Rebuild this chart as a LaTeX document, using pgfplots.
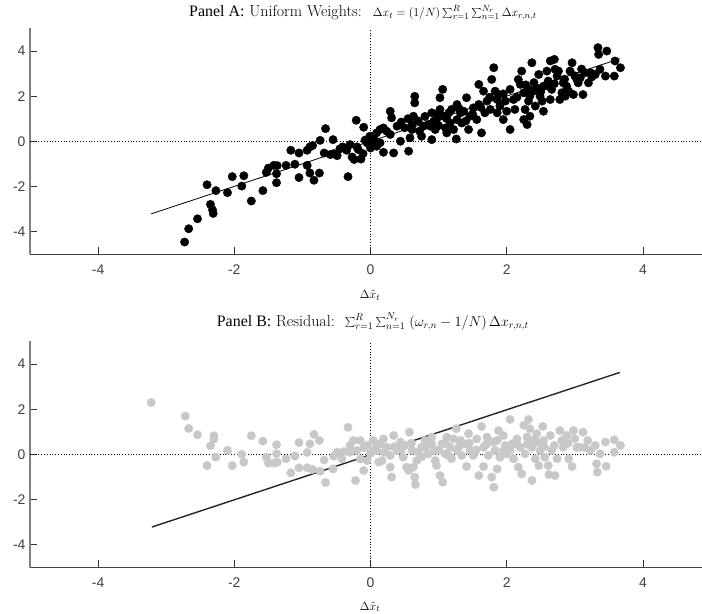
\documentclass[border=0pt]{standalone}
\usepackage{pgfplots}
\pgfplotsset{compat=1.18}
\usepackage{pgfplotstable}
\usepackage{fontspec}
\newfontfamily\arialf{Liberation Sans}
\newfontfamily\timesf{Liberation Serif}
\definecolor{tickgray}{HTML}{404040}
\definecolor{ptgray}{HTML}{C8C8C8}

\pgfplotstableread{
x y
-2.73 -4.47
-2.67 -3.88
-2.54 -3.44
-2.40 -1.93
-2.35 -2.80
-2.32 -3.04
-2.31 -3.20
-2.27 -2.19
-2.10 -2.28
-2.03 -1.57
-1.89 -1.99
-1.86 -1.53
-1.75 -2.65
-1.58 -2.19
-1.53 -1.38
-1.50 -1.19
-1.42 -1.07
-1.37 -1.08
-1.38 -1.44
-1.38 -1.84
-1.24 -1.07
-1.17 -0.40
-1.11 -1.02
-1.05 -0.52
-1.05 -1.61
-0.93 -1.07
-0.93 -0.40
-0.89 -0.25
-0.85 -0.19
-0.89 -1.41
-0.83 -1.73
-0.75 -1.41
-0.74 0.04
-0.68 -0.52
-0.66 0.56
-0.59 -0.59
-0.55 0.07
-0.54 -0.55
-0.49 -0.64
-0.45 -0.34
-0.41 -0.25
-0.35 -0.40
-0.33 -1.57
-0.30 -0.15
-0.27 -0.70
-0.24 -0.81
-0.21 0.93
-0.20 -0.25
-0.18 -0.37
-0.14 -0.79
-0.11 -0.55
-0.10 0.62
-0.08 0.05
-0.05 -0.07
-0.01 0.22
0.00 -0.30
0.04 -0.07
0.05 0.10
0.09 0.37
0.09 -0.22
0.04 0.22
0.14 0.52
0.19 0.59
0.24 0.44
0.29 0.30
0.14 -0.07
0.19 -0.49
0.34 -0.52
0.29 1.33
0.31 1.04
0.39 0.67
0.44 0.00
0.45 0.85
0.50 0.60
0.55 1.00
0.56 -0.44
0.58 0.15
0.61 0.52
0.63 1.11
0.65 1.70
0.65 1.99
0.61 0.74
0.70 0.90
0.72 0.45
0.75 0.22
0.78 0.67
0.80 1.10
0.85 0.75
0.90 0.07
0.88 0.67
0.90 1.26
0.93 0.89
0.95 0.52
0.97 0.96
0.98 1.20
1.00 0.70
1.02 1.93
1.06 2.30
1.02 1.41
1.07 1.11
1.10 0.59
1.12 0.37
1.12 1.00
1.15 1.26
1.17 0.81
1.19 1.41
1.22 0.52
1.26 0.10
1.27 0.96
1.27 1.63
1.30 1.45
1.32 1.26
1.34 0.81
1.37 1.33
1.40 0.90
1.41 1.93
1.44 0.52
1.46 1.11
1.50 1.20
1.51 1.48
1.56 0.96
1.59 2.52
1.59 1.63
1.62 1.50
1.63 0.37
1.66 2.22
1.68 1.26
1.71 1.78
1.75 1.95
1.76 1.41
1.78 2.74
1.81 3.26
1.83 2.22
1.86 1.26
1.86 1.85
1.88 2.07
1.90 1.56
1.95 0.96
1.95 2.10
1.98 1.78
2.00 1.33
2.05 0.52
2.05 2.30
2.10 1.85
2.12 1.41
2.15 1.95
2.17 2.74
2.20 2.52
2.22 3.11
2.25 2.15
2.25 0.96
2.27 1.41
2.28 2.50
2.30 0.74
2.32 2.30
2.32 1.78
2.34 2.00
2.34 1.11
2.37 3.48
2.39 2.22
2.40 2.60
2.42 1.56
2.44 2.37
2.47 2.96
2.49 2.00
2.50 2.20
2.52 1.78
2.54 1.33
2.54 2.44
2.59 3.11
2.60 2.45
2.61 2.67
2.64 3.56
2.64 1.85
2.66 2.30
2.70 3.63
2.70 2.55
2.71 3.19
2.74 2.89
2.76 3.11
2.78 1.85
2.81 2.15
2.83 2.59
2.85 2.75
2.86 2.00
2.88 2.44
2.91 2.22
2.93 3.11
2.96 3.48
2.98 2.07
3.00 2.90
3.03 2.74
3.05 2.59
3.08 2.81
3.10 3.20
3.12 2.07
3.15 3.04
3.20 2.59
3.23 3.04
3.25 2.85
3.30 2.96
3.35 3.85
3.34 4.15
3.37 3.19
3.45 2.89
3.47 4.00
3.58 2.89
3.59 3.56
3.67 3.26
}\dataA

\pgfplotstableread{
x y
-3.22 2.30
-2.72 1.70
-2.67 1.15
-2.54 0.87
-2.30 0.83
-2.30 0.68
-2.35 0.38
-2.40 -0.49
-2.27 -0.12
-2.10 0.18
-2.03 -0.49
-1.89 0.01
-1.86 -0.34
-1.75 0.83
-1.58 0.59
-1.53 -0.12
-1.50 -0.38
-1.38 0.43
-1.38 0.03
-1.37 -0.34
-1.42 -0.38
-1.24 -0.19
-1.17 -0.81
-1.11 -0.07
-1.05 0.53
-1.05 -0.59
-0.93 0.09
-0.93 -0.59
-0.89 0.47
-0.85 -0.66
-0.83 0.89
-0.75 0.62
-0.74 -0.74
-0.68 -0.24
-0.66 -1.24
-0.55 -0.64
-0.54 -0.07
-0.49 0.10
-0.42 -0.19
-0.39 0.13
-0.33 1.20
-0.30 0.40
-0.30 0.10
-0.25 0.62
-0.22 -1.15
-0.20 0.18
-0.15 0.62
-0.15 -0.20
-0.10 -0.71
-0.10 0.30
-0.05 -0.27
-0.05 0.40
0.00 0.05
0.04 0.18
0.09 0.47
0.12 -0.34
0.04 0.62
0.09 0.18
0.14 0.47
0.17 -0.27
0.19 0.69
0.20 0.10
0.24 0.32
0.29 -0.04
0.29 -0.56
0.31 -1.00
0.34 0.84
0.35 0.35
0.39 0.18
0.44 0.55
0.45 0.20
0.48 -0.12
0.50 0.40
0.53 -0.56
0.56 -0.71
0.57 0.99
0.60 0.50
0.61 0.18
0.63 -0.56
0.65 -1.00
0.66 -1.33
0.68 -0.27
0.70 0.10
0.75 0.32
0.75 -0.10
0.80 0.62
0.80 0.30
0.85 0.03
0.90 0.77
0.90 0.45
0.93 0.18
0.95 -0.27
0.97 -0.49
1.00 0.20
1.02 -0.93
1.06 -1.23
1.05 0.47
1.10 0.03
1.10 0.50
1.12 0.77
1.15 -0.05
1.17 0.32
1.19 -0.19
1.22 0.69
1.26 1.14
1.27 0.18
1.30 0.35
1.32 0.62
1.34 -0.04
1.39 0.47
1.41 -0.53
1.44 0.92
1.45 0.50
1.46 0.18
1.51 -0.04
1.55 0.20
1.56 0.69
1.59 -0.93
1.63 1.24
1.66 0.32
1.66 -0.53
1.70 0.45
1.71 0.77
1.73 -0.04
1.78 -1.00
1.80 0.55
1.81 -1.45
1.83 0.18
1.86 -0.64
1.86 0.62
1.88 1.06
1.90 -0.12
1.95 0.84
1.95 0.15
1.98 0.40
2.00 0.03
2.05 1.55
2.05 0.20
2.08 0.47
2.10 -0.19
2.15 0.69
2.15 0.45
2.17 -0.56
2.20 0.32
2.22 -0.86
2.25 1.29
2.27 0.03
2.30 0.77
2.30 0.45
2.32 1.55
2.34 1.14
2.37 -1.15
2.37 0.32
2.39 0.62
2.42 -0.19
2.44 0.92
2.45 0.55
2.47 -0.49
2.49 0.18
2.53 1.24
2.54 0.62
2.55 0.35
2.56 -0.12
2.61 -0.49
2.62 -0.89
2.64 0.84
2.66 0.18
2.70 0.40
2.71 -0.93
2.74 -0.19
2.78 1.06
2.81 0.62
2.83 0.32
2.88 0.84
2.90 0.50
2.91 -0.19
2.96 -0.53
2.98 1.06
3.00 0.70
3.03 0.32
3.08 0.32
3.12 0.99
3.15 0.30
3.19 0.62
3.23 0.18
3.30 0.40
3.32 -0.41
3.33 -0.78
3.37 0.03
3.46 -0.52
3.45 0.55
3.58 0.65
3.58 0.10
3.67 0.40
}\dataB

\pgfplotsset{
 myaxis/.style={
  scale only axis, width=672bp,
  xmin=-5, xmax=4.868, ymin=-5, ymax=5,
  axis x line=bottom, axis y line=left,
  axis line style={-},
  x axis line style={draw=black!75, line width=0.8bp},
  y axis line style={draw=black!50, line width=1.2bp},
  xtick={-4,-2,0,2,4}, ytick={-4,-2,0,2,4},
  tick align=inside, major tick length=7bp,
  tick style={black!80, line width=0.8bp},
  ticklabel style={font=\arialf\fontsize{14}{14}\selectfont, text=tickgray},
  yticklabel style={xshift=-1bp},
  xticklabel style={inner sep=1bp, yshift=-9.5bp},
  /pgf/number format/assume math mode=true,
  clip=true,
  title style={anchor=west, inner sep=0pt, font=\fontsize{16}{18}\selectfont},
  xlabel style={anchor=center, inner sep=0.5bp, font=\fontsize{12.5}{14}\selectfont},
 }
}

\begin{document}
\begin{tikzpicture}
\useasboundingbox (0,0) rectangle (702bp,614bp);
\begin{axis}[myaxis, at={(30bp,360bp)}, anchor=south west, height=225.5bp,
  title={{\timesf Panel A:} Uniform Weights:\hspace{11bp}{\fontsize{13.2}{15}\selectfont$\Delta x_t = (1/N)\sum_{r=1}^{R}\sum_{n=1}^{N_r}\Delta x_{r,n,t}$}},
  title style={at={(axis description cs:0.2366,1.043)}},
  xlabel={$\Delta\tilde{x}_t$},
  xlabel style={at={(axis description cs:0.506,-0.182)}}]
\addplot[black, dotted, line width=0.8bp] coordinates {(0,-5) (0,5)};
\addplot[black, dotted, line width=0.8bp] coordinates {(-5,0) (4.868,0)};
\addplot[only marks, mark=*, mark size=4.2bp, mark options={fill=black, draw=black}] table[x=x,y=y] {\dataA};
\addplot[black, line width=0.8bp] coordinates {(-3.22,-3.22) (3.66,3.66)};
\end{axis}
\begin{axis}[myaxis, at={(30bp,46.5bp)}, anchor=south west, height=226bp,
  title={{\timesf Panel B:} Residual:\hspace{10bp}{\fontsize{14.6}{16}\selectfont$\sum_{r=1}^{R}\sum_{n=1}^{N_r}\;(\omega_{r,n}-1/N)\,\Delta x_{r,n,t}$}},
  title style={at={(axis description cs:0.2778,1.062)}},
  xlabel={$\Delta\tilde{x}_t$},
  xlabel style={at={(axis description cs:0.506,-0.174)}}]
\addplot[black, dotted, line width=0.8bp] coordinates {(0,-5) (0,5)};
\addplot[black, dotted, line width=0.8bp] coordinates {(-5,0) (4.868,0)};
\addplot[only marks, mark=*, mark size=4.2bp, mark options={fill=ptgray, draw=ptgray}] table[x=x,y=y] {\dataB};
\addplot[black!85, line width=1.4bp] coordinates {(-3.21,-3.21) (3.66,3.63)};
\end{axis}
\end{tikzpicture}
\end{document}
